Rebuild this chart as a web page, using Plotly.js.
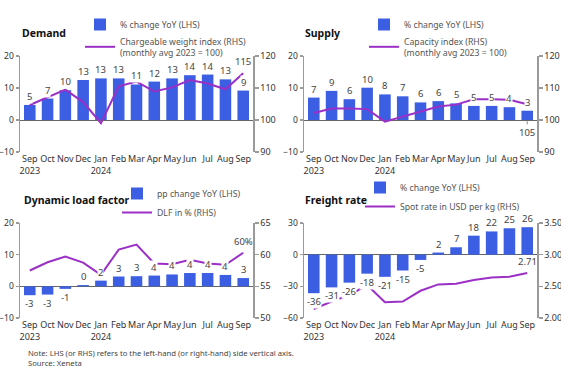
<!DOCTYPE html>
<html>
<head>
<meta charset="utf-8">
<script src="https://cdn.plot.ly/plotly-3.0.1.min.js"></script>
<style>html,body{margin:0;padding:0;background:#fff}#chart{width:561px;height:368px}</style>
</head>
<body>
<div id="chart"></div>
<script>
// ---- data ----
const months = ['Sep','Oct','Nov','Dec','Jan','Feb','Mar','Apr','May','Jun','Jul','Aug','Sep'];
const monthTickText = ['Sep<br>2023','Oct','Nov','Dec','Jan<br>2024','Feb','Mar','Apr','May','Jun','Jul','Aug','Sep'];

const demandYoY = [4.7, 6.7, 9.3, 12.5, 13, 13, 11.1, 12, 13, 14, 14.2, 12.7, 9.2];
const demandYoYLabels = ['5','7','10','13','13','13','11','12','13','14','14','13','9'];
const chargeableWeightIdx = [104.7, 107, 109.5, 105.6, 99, 110.5, 112, 108.9, 110.2, 112.5, 111.4, 109.6, 114.6];
const chargeableLastLabel = '115';

const supplyYoY = [7, 9.1, 6.5, 10.1, 8, 7.4, 5.5, 5.9, 5.2, 4.4, 4.4, 4, 2.9];
const supplyYoYLabels = ['7','9','6','10','8','7','6','6','5','5','5','4','3'];
const capacityIdx = [102.2, 103.6, 103.6, 103.4, 99.5, 101, 102.5, 104.2, 104.8, 106.5, 106.5, 106.3, 104.9];
const capacityLastLabel = '105';

const dlfYoY = [-2.8, -2.6, -0.8, 0.4, 1.8, 3.1, 3.2, 3.4, 3.75, 4.2, 4.2, 3.6, 2.6];
const dlfYoYLabels = ['-3','-3','-1','0','2','3','3','4','4','4','4','4','3'];
const dlfPct = [57.5, 58.8, 59.7, 58.75, 56.8, 60.8, 61.6, 58.6, 58.5, 59.2, 58.6, 58.4, 60.3];
const dlfLastLabel = '60%';

const freightYoY = [-36.5, -31, -26.5, -18, -21, -15, -5, 2, 7, 18, 22, 25, 26];
const freightYoYLabels = ['-36','-31','-26','-18','-21','-15','-5','2','7','18','22','25','26'];
const spotRate = [2.14, 2.26, 2.36, 2.52, 2.25, 2.26, 2.43, 2.53, 2.54, 2.60, 2.64, 2.65, 2.71];
const spotLastLabel = '2.71';

// ---- styling ----
const BAR = '#3b5ee3';
const LINE = '#9b2fc6';
const FONT = 'Noto Sans, Open Sans, sans-serif';
const W = 561, H = 368;
const px = v => v / W;
const py = v => 1 - v / H;
const xIdx = months.map((m, i) => i);

const panels = [
  {title:'Demand', bars:demandYoY, barLabels:demandYoYLabels, line:chargeableWeightIdx, lastLabel:chargeableLastLabel, lastBelow:false,
   barName:'% change YoY (LHS)', lineName:'Chargeable weight index (RHS)<br>(monthly avg 2023 = 100)',
   lRange:[-10,20], lDtick:10, rRange:[90,120], rDtick:10, rFmt:'', xL:20, xR:253, yT:56, yB:152},
  {title:'Supply', bars:supplyYoY, barLabels:supplyYoYLabels, line:capacityIdx, lastLabel:capacityLastLabel, lastBelow:true,
   barName:'% change YoY (LHS)', lineName:'Capacity index (RHS)<br>(monthly avg 2023 = 100)',
   lRange:[-10,20], lDtick:10, rRange:[90,120], rDtick:10, rFmt:'', xL:304, xR:537, yT:56, yB:152},
  {title:'Dynamic load factor', bars:dlfYoY, barLabels:dlfYoYLabels, line:dlfPct, lastLabel:dlfLastLabel, lastBelow:false,
   barName:'pp change YoY (LHS)', lineName:'DLF in % (RHS)',
   lRange:[-10,20], lDtick:10, rRange:[50,65], rDtick:5, rFmt:'', xL:20, xR:253, yT:223, yB:318},
  {title:'Freight rate', bars:freightYoY, barLabels:freightYoYLabels, line:spotRate, lastLabel:spotLastLabel, lastBelow:false,
   barName:'% change YoY (LHS)', lineName:'Spot rate in USD per kg (RHS)',
   lRange:[-60,30], lDtick:30, rRange:[2.0,3.5], rDtick:0.5, rFmt:'.2f', xL:304, xR:537, yT:223, yB:318}
];
const legendPos = [
  {x:80, y:10}, {x:364, y:10}, {x:117, y:179}, {x:360, y:173}
];
const titlePos = [
  {x:20, y:33}, {x:303, y:33}, {x:22, y:200}, {x:303, y:200}
];

const traces = [];
const layout = {
  width: W, height: H, autosize: false,
  margin: {l:0, r:0, t:0, b:0},
  paper_bgcolor: '#fff', plot_bgcolor: 'rgba(0,0,0,0)',
  font: {family: FONT, size: 9, color: '#333'},
  bargap: 0.35,
  annotations: [],
  showlegend: true
};

panels.forEach((p, k) => {
  const n = k + 1;
  const xa = 'x' + (n === 1 ? '' : n);
  const yl = 'y' + (2*n - 1 === 1 ? '' : 2*n - 1);
  const yr = 'y' + (2*n);
  const legName = 'legend' + (n === 1 ? '' : n);
  const xKey = 'xaxis' + (n === 1 ? '' : n);
  const ylKey = 'yaxis' + (2*n - 1 === 1 ? '' : 2*n - 1);
  const yrKey = 'yaxis' + (2*n);

  traces.push({
    type:'bar', x:xIdx, y:p.bars, xaxis:xa, yaxis:yl, name:p.barName,
    marker:{color:BAR}, legend:legName, hoverinfo:'skip'
  });
  traces.push({
    type:'scatter', mode:'lines', x:xIdx, y:p.line, xaxis:xa, yaxis:yr, name:p.lineName,
    line:{color:LINE, width:2}, legend:legName, hoverinfo:'skip'
  });

  layout[xKey] = {
    domain:[px(p.xL), px(p.xR)], anchor:yl, range:[-0.55, 12.55],
    tickmode:'array', tickvals:xIdx, ticktext:monthTickText, tickangle:0,
    showline:false, ticks:'', showgrid:false, zeroline:false,
    tickfont:{size:9, color:'#333'}, fixedrange:true
  };
  layout[ylKey] = {
    domain:[py(p.yB), py(p.yT)], anchor:xa, range:p.lRange, dtick:p.lDtick, tick0:0,
    side:'left', showline:true, linecolor:'#9a9a9a', linewidth:1.5,
    ticks:'outside', ticklen:3, tickcolor:'#9a9a9a', tickwidth:1.5,
    showgrid:false, zeroline:true, zerolinecolor:'#666', zerolinewidth:1,
    tickfont:{size:8.5, color:'#333'}, fixedrange:true
  };
  layout[yrKey] = {
    overlaying:yl, anchor:xa, side:'right', range:p.rRange, dtick:p.rDtick, tick0:p.rRange[0],
    tickformat:p.rFmt, showline:true, linecolor:'#9a9a9a', linewidth:1.5,
    ticks:'outside', ticklen:4, tickcolor:'#9a9a9a', tickwidth:1.5,
    showgrid:false, zeroline:false,
    tickfont:{size:9, color:'#333'}, fixedrange:true
  };
  layout[legName] = {
    x:px(legendPos[k].x), y:py(legendPos[k].y), xanchor:'left', yanchor:'top',
    bgcolor:'rgba(0,0,0,0)', font:{size:8.7, color:'#555', family:FONT},
    tracegroupgap:0, itemwidth:30, traceorder:'normal'
  };

  // bar value labels
  p.bars.forEach((v, i) => {
    layout.annotations.push({
      x:i, y:v, xref:xa, yref:yl, text:p.barLabels[i], showarrow:false,
      yanchor: v >= 0 ? 'bottom' : 'top', yshift: v >= 0 ? 1 : -1,
      font:{size:9.5, color:'#444', family:FONT},
      bgcolor:'#ffffff', borderpad:0
    });
  });

  // last line value label
  const li = p.line.length - 1;
  if (p.lastBelow) {
    layout.annotations.push({
      x:li, y:p.line[li], xref:xa, yref:yr, text:p.lastLabel,
      showarrow:true, arrowhead:0, arrowwidth:1, arrowcolor:'#888', ax:0, ay:28, standoff:17,
      font:{size:9.5, color:'#444', family:FONT}
    });
  } else {
    layout.annotations.push({
      x:li, y:p.line[li], xref:xa, yref:yr, text:p.lastLabel, showarrow:false,
      yanchor:'bottom', yshift:3, font:{size:9.5, color:'#444', family:FONT}
    });
  }

  // panel title
  layout.annotations.push({
    xref:'paper', yref:'paper', x:px(titlePos[k].x), y:py(titlePos[k].y),
    xanchor:'left', yanchor:'middle', showarrow:false, text:'<b>' + p.title + '</b>',
    font:{size:10.5, color:'#111', family:FONT}
  });
});

// note and source
layout.annotations.push({
  xref:'paper', yref:'paper', x:px(26), y:py(353), xanchor:'left', yanchor:'middle', showarrow:false,
  text:'Note: LHS (or RHS) refers to the left-hand (or right-hand) side vertical axis.',
  font:{size:7.7, color:'#444', family:FONT}
});
layout.annotations.push({
  xref:'paper', yref:'paper', x:px(26), y:py(363), xanchor:'left', yanchor:'middle', showarrow:false,
  text:'Source: Xeneta',
  font:{size:7.7, color:'#444', family:FONT}
});

Plotly.newPlot('chart', traces, layout, {staticPlot:true, displayModeBar:false});
</script>
</body>
</html>
